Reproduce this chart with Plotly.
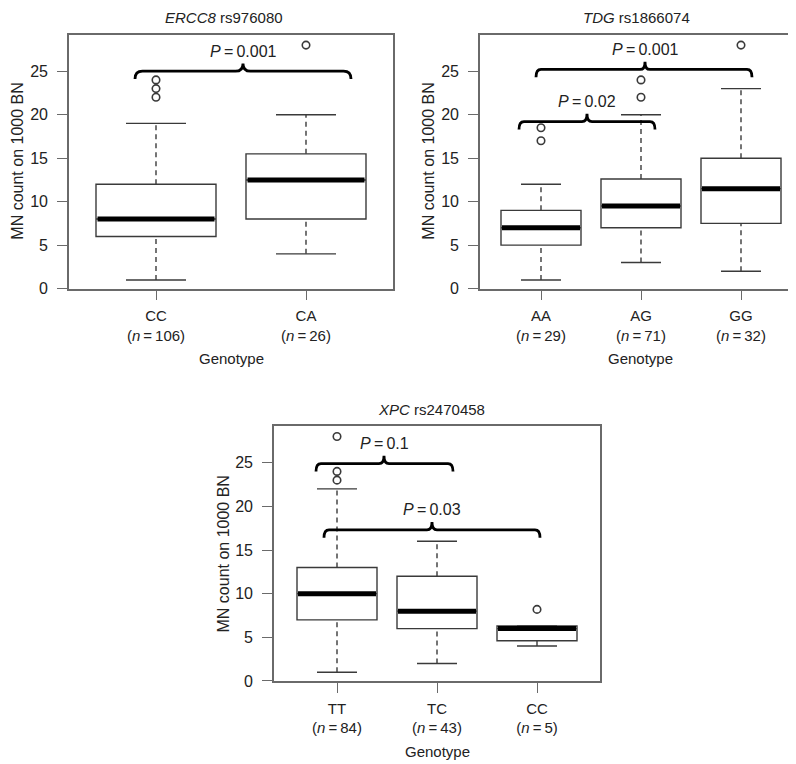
import plotly.graph_objects as go

# ---------------- data ----------------
titles = ["<i>ERCC8</i> rs976080", "<i>TDG</i> rs1866074", "<i>XPC</i> rs2470458"]

p1_genotypes = ["CC", "CA"]
p1_n = [106, 26]
p1_lower = [1, 4]
p1_q1 = [6, 8]
p1_median = [8, 12.5]
p1_q3 = [12, 15.5]
p1_upper = [19, 20]
p1_outliers = [[22, 23, 24], [28]]

p2_genotypes = ["AA", "AG", "GG"]
p2_n = [29, 71, 32]
p2_lower = [1, 3, 2]
p2_q1 = [5, 7, 7.5]
p2_median = [7, 9.5, 11.5]
p2_q3 = [9, 12.6, 15]
p2_upper = [12, 20, 23]
p2_outliers = [[17, 18.5], [22, 24], [28]]

p3_genotypes = ["TT", "TC", "CC"]
p3_n = [84, 43, 5]
p3_lower = [1, 2, 4]
p3_q1 = [7, 6, 4.6]
p3_median = [10, 8, 6]
p3_q3 = [13, 12, 6.3]
p3_upper = [22, 16, 6.3]
p3_outliers = [[23, 24, 28], [], [8.2]]

# comparisons: (panel, from position, to position, bracket height, label)
bracket_panel = [0, 1, 1, 2, 2]
bracket_x0 = [0.86, 0.95, 0.78, 0.79, 0.87]
bracket_x1 = [2.30, 3.11, 2.14, 2.16, 3.03]
bracket_xc = [1.58, 2.04, 1.46, 1.47, 1.95]
bracket_y = [25.0, 25.2, 19.2, 24.9, 17.3]
bracket_labels = ["0.001", "0.001", "0.02", "0.1", "0.03"]

ytick_vals = [0, 5, 10, 15, 20, 25]
y_range = [0, 29.2]

# ---------------- layout geometry ----------------
W, H = 796, 764
FONT = "Liberation Sans, Arial, Helvetica, sans-serif"
TXT = "#222222"
LINE = "#3a3a3a"
FRAME = "#6a6a6a"

panels = [
    dict(g=p1_genotypes, n=p1_n, lo=p1_lower, q1=p1_q1, me=p1_median, q3=p1_q3, up=p1_upper,
         out=p1_outliers, px=(61, 385), py=(27, 284), xr=[0.42, 2.58], tx=216),
    dict(g=p2_genotypes, n=p2_n, lo=p2_lower, q1=p2_q1, me=p2_median, q3=p2_q3, up=p2_upper,
         out=p2_outliers, px=(472, 793), py=(27, 284), xr=[0.39, 3.60], tx=628),
    dict(g=p3_genotypes, n=p3_n, lo=p3_lower, q1=p3_q1, me=p3_median, q3=p3_q3, up=p3_upper,
         out=p3_outliers, px=(266, 592), py=(423, 681), xr=[0.37, 3.63], tx=423),
]

fig = go.Figure()
layout = dict(width=W, height=H, margin=dict(l=0, r=0, t=0, b=0),
              paper_bgcolor="white", plot_bgcolor="white", showlegend=False,
              font=dict(family=FONT, color=TXT, size=14))
annotations = []
shapes = []

BOXW = 0.8
CAPW = 0.4

for i, p in enumerate(panels):
    sfx = "" if i == 0 else str(i + 1)
    xa, ya = "x" + sfx, "y" + sfx
    pos = list(range(1, len(p["g"]) + 1))

    # boxes (whiskers drawn separately, dashed as in R)
    fig.add_trace(go.Box(
        x=pos, q1=p["q1"], median=p["me"], q3=p["q3"],
        lowerfence=p["q1"], upperfence=p["q3"],
        width=BOXW, whiskerwidth=0, fillcolor="white",
        line=dict(color=LINE, width=1.4), boxpoints=False,
        hoverinfo="skip", xaxis=xa, yaxis=ya))

    for k, x in enumerate(pos):
        # dashed whiskers
        fig.add_trace(go.Scatter(
            x=[x, x, None, x, x], y=[p["lo"][k], p["q1"][k], None, p["q3"][k], p["up"][k]],
            mode="lines", line=dict(color=LINE, width=1.4, dash="5px,4px"),
            hoverinfo="skip", xaxis=xa, yaxis=ya))
        # staples
        fig.add_trace(go.Scatter(
            x=[x - CAPW / 2, x + CAPW / 2, None, x - CAPW / 2, x + CAPW / 2],
            y=[p["lo"][k], p["lo"][k], None, p["up"][k], p["up"][k]],
            mode="lines", line=dict(color=LINE, width=1.4),
            hoverinfo="skip", xaxis=xa, yaxis=ya))
        # thick median
        fig.add_trace(go.Scatter(
            x=[x - BOXW / 2 + 0.01, x + BOXW / 2 - 0.01], y=[p["me"][k], p["me"][k]],
            mode="lines", line=dict(color="black", width=5),
            hoverinfo="skip", xaxis=xa, yaxis=ya))
        # outliers
        if p["out"][k]:
            fig.add_trace(go.Scatter(
                x=[x] * len(p["out"][k]), y=p["out"][k], mode="markers",
                marker=dict(symbol="circle-open", size=7.5, color=LINE, line=dict(width=1.6)),
                hoverinfo="skip", xaxis=xa, yaxis=ya))

    xd = [p["px"][0] / W, p["px"][1] / W]
    yd = [1 - p["py"][1] / H, 1 - p["py"][0] / H]
    ticktext = [f"{g}<br>(<i>n</i>\u2009=\u2009{n})" for g, n in zip(p["g"], p["n"])]
    layout["xaxis" + sfx] = dict(
        domain=xd, range=p["xr"], anchor=ya, tickmode="array", tickvals=pos,
        ticktext=ticktext, ticks="outside", ticklen=10, tickcolor=FRAME, tickwidth=1.4,
        showline=True, linecolor=FRAME, linewidth=1.6, mirror=True, showgrid=False,
        zeroline=False, tickfont=dict(size=15, color=TXT), ticklabelstandoff=3, fixedrange=True)
    layout["yaxis" + sfx] = dict(
        domain=yd, range=y_range, anchor=xa, tickmode="array", tickvals=ytick_vals,
        ticks="outside", ticklen=10, tickcolor=FRAME, tickwidth=1.4,
        showline=True, linecolor=FRAME, linewidth=1.6, mirror=True, showgrid=False,
        zeroline=False, tickfont=dict(size=16, color=TXT), ticklabelstandoff=6, fixedrange=True)

    cx = (p["px"][0] + p["px"][1]) / 2 / W
    annotations.append(dict(text=titles[i], x=p["tx"] / W, y=1 - (p["py"][0] - 17) / H, xref="paper", yref="paper",
                            showarrow=False, font=dict(size=15, color=TXT), xanchor="center", yanchor="middle"))
    annotations.append(dict(text="Genotype", x=cx, y=1 - (p["py"][1] + 71) / H, xref="paper", yref="paper",
                            showarrow=False, font=dict(size=15, color=TXT), xanchor="center", yanchor="middle"))
    annotations.append(dict(text="MN count on 1000 BN", textangle=-90,
                            x=(p["px"][0] - 51) / W, y=1 - (p["py"][0] + p["py"][1]) / 2 / H,
                            xref="paper", yref="paper", showarrow=False,
                            font=dict(size=16, color=TXT), xanchor="center", yanchor="middle"))

# brackets with P values
for b in range(len(bracket_labels)):
    i = bracket_panel[b]
    sfx = "" if i == 0 else str(i + 1)
    x0, x1, xc, y = bracket_x0[b], bracket_x1[b], bracket_xc[b], bracket_y[b]
    dx, dy = 0.05, 0.9
    path = (f"M {x0},{y - dy} Q {x0},{y} {x0 + dx},{y} L {xc - dx},{y} "
            f"Q {xc},{y} {xc},{y + dy} Q {xc},{y} {xc + dx},{y} "
            f"L {x1 - dx},{y} Q {x1},{y} {x1},{y - dy}")
    shapes.append(dict(type="path", path=path, xref="x" + sfx, yref="y" + sfx,
                       line=dict(color="black", width=2.8)))
    annotations.append(dict(text=f"<i>P</i>\u2009=\u2009{bracket_labels[b]}", x=xc, y=y + 1.1,
                            xref="x" + sfx, yref="y" + sfx, showarrow=False,
                            xanchor="center", yanchor="bottom", font=dict(size=16, color=TXT)))

layout["annotations"] = annotations
layout["shapes"] = shapes
fig.update_layout(**layout)
fig.write_html("out.html")
